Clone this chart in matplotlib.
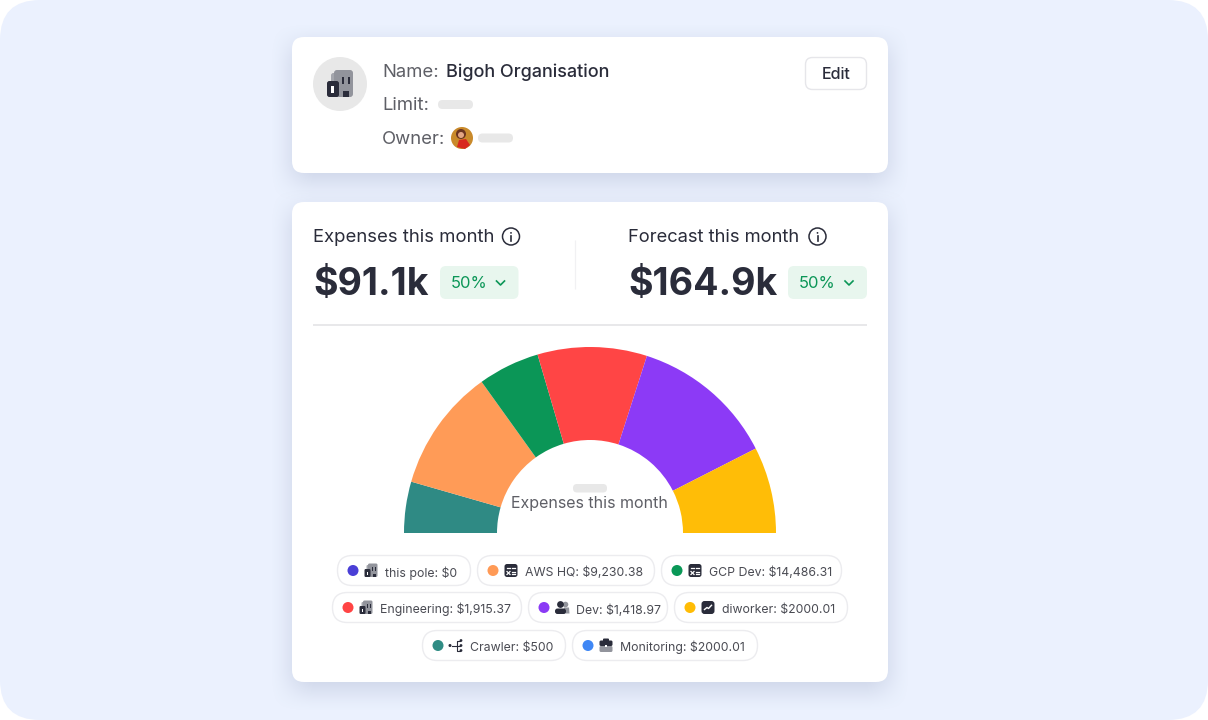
import numpy as np
import matplotlib
matplotlib.use('Agg')
import matplotlib.pyplot as plt
from matplotlib.patches import FancyBboxPatch, Circle, Rectangle, Polygon

plt.rcParams['font.family'] = ['Inter', 'DejaVu Sans']

# slices of the half donut, left to right (share of a full circle)
slice_names = ['Crawler', 'AWS HQ', 'GCP Dev', 'Engineering', 'Dev', 'diworker']
slice_shares = [0.0445, 0.1065, 0.0535, 0.0950, 0.1255, 0.0750]
slice_colors = ['#2F8A84', '#FF9B57', '#0B9657', '#FF4545', '#8C3AF6', '#FFBD07']

legend_labels = ['this pole: $0', 'AWS HQ: $9,230.38', 'GCP Dev: $14,486.31',
                 'Engineering: $1,915.37', 'Dev: $1,418.97', 'diworker: $2000.01',
                 'Crawler: $500', 'Monitoring: $2000.01']
legend_colors = ['#4A3FD6', '#FF9A56', '#0A9857', '#FF4444', '#8B3BF5', '#FFBC05',
                 '#2F8C84', '#3F87F5']
legend_icons = ['org', 'calc', 'calc', 'org', 'people', 'chart', 'tree', 'case']
# pill left, right, top, bottom
legend_boxes = [(337, 471, 555, 586), (477, 655, 555, 586), (661, 842, 555, 586),
                (332, 522, 592, 623), (528, 668, 592, 623), (674, 848, 592, 623),
                (422, 566, 630, 661), (572, 758, 630, 661)]

expenses = '$91.1k'
forecast = '$164.9k'
change = '50%'

DARK = '#2A2C3A'
GREY = '#5E5F66'
PH = '#E8E8E8'
GREEN = '#0B9657'


def rbox(ax, x0, y0, x1, y1, r, fc, ec='none', lw=0, alpha=None, z=2):
    p = FancyBboxPatch((x0, y0), x1 - x0, y1 - y0, boxstyle='round,pad=0,rounding_size=%s' % r,
                       fc=fc, ec=ec, lw=lw, alpha=alpha, zorder=z)
    ax.add_patch(p)


def txt(ax, x, y, s, px, color=DARK, weight='normal', ha='left'):
    # y is the text baseline
    ax.text(x, y, s, fontsize=px * 0.72, color=color, fontweight=weight, ha=ha, va='baseline', zorder=6)


def soft_edge(t, lo, hi, blur):
    a = np.clip((t - lo + blur) / (2 * blur), 0, 1)
    b = np.clip((hi - t + blur) / (2 * blur), 0, 1)
    return (a * a * (3 - 2 * a)) * (b * b * (3 - 2 * b))


def card(ax, x0, y0, x1, y1):
    # soft shadow as a small alpha image under the white box
    blur = 24
    xs = np.arange(1208) + 0.5
    ys = np.arange(720) + 0.5
    alpha = np.outer(soft_edge(ys, y0 + 8, y1 + 8, blur), soft_edge(xs, x0, x1, blur)) * 0.25
    img = np.zeros((720, 1208, 4))
    img[..., 0] = 0.42
    img[..., 1] = 0.47
    img[..., 2] = 0.62
    img[..., 3] = alpha
    ax.imshow(img, extent=(0, 1208, 720, 0), zorder=1, aspect='auto', interpolation='nearest')
    rbox(ax, x0, y0, x1, y1, 12, 'white', z=2)


def building(ax, x, y, s=1.0):
    # x, y is the left bottom corner
    rbox(ax, x + 2 * s, y - 12 * s, x + 9 * s, y, 1.2 * s, '#A4A6AD', z=6)
    rbox(ax, x + 3.5 * s, y - 13.5 * s, x + 13 * s, y, 1.5 * s, '#92949C', z=7)
    rbox(ax, x, y - 8 * s, x + 6 * s, y, 1.2 * s, DARK, z=8)
    ax.add_patch(Rectangle((x + 2 * s, y - 5.5 * s), 1.3 * s, 3.5 * s, fc='white', zorder=9))
    ax.add_patch(Rectangle((x + 7.5 * s, y - 10 * s), 1 * s, 3.5 * s, fc=DARK, zorder=9))
    ax.add_patch(Rectangle((x + 10.7 * s, y - 10 * s), 1 * s, 3.5 * s, fc=DARK, zorder=9))
    ax.add_patch(Rectangle((x + 8 * s, y - 3 * s), 3 * s, 3 * s, fc=DARK, zorder=9))


def draw_icon(ax, kind, cx, cy):
    if kind == 'org':
        building(ax, cx - 6.5, cy + 6.5)
    elif kind == 'calc':
        rbox(ax, cx - 6.5, cy - 6.5, cx + 6.5, cy + 6.5, 2.5, DARK, z=7)
        ax.plot([cx - 4, cx - 1], [cy - 2.5, cy - 2.5], color='white', lw=0.9, zorder=8)
        ax.plot([cx + 1, cx + 4], [cy - 2.5, cy - 2.5], color='white', lw=0.9, zorder=8)
        ax.plot([cx + 1, cx + 4], [cy + 1.5, cy + 1.5], color='white', lw=0.9, zorder=8)
        ax.plot([cx + 1, cx + 4], [cy + 3.5, cy + 3.5], color='white', lw=0.9, zorder=8)
        ax.plot([cx - 4, cx - 1], [cy + 1, cy + 4], color='white', lw=0.9, zorder=8)
        ax.plot([cx - 4, cx - 1], [cy + 4, cy + 1], color='white', lw=0.9, zorder=8)
    elif kind == 'people':
        ax.add_patch(Circle((cx + 3.5, cy - 3), 2.8, fc='#92949C', zorder=7))
        ax.add_patch(Polygon([(cx + 1, cy + 6), (cx + 2, cy), (cx + 7, cy), (cx + 7.5, cy + 6)], fc='#92949C', zorder=7))
        ax.add_patch(Circle((cx - 1.5, cy - 3), 3.4, fc=DARK, zorder=8))
        rbox(ax, cx - 7, cy + 1, cx + 4, cy + 6.5, 2.5, DARK, z=8)
    elif kind == 'chart':
        rbox(ax, cx - 6.5, cy - 6.5, cx + 6.5, cy + 6.5, 3, DARK, z=7)
        ax.plot([cx - 3.5, cx - 1, cx + 0.5, cx + 3.5], [cy + 2, cy, cy + 1, cy - 2.2], color='white', lw=1, zorder=8)
    elif kind == 'tree':
        ax.add_patch(Circle((cx - 6, cy), 1.5, fc=DARK, zorder=8))
        ax.plot([cx - 4, cx + 0.5, cx + 0.5, cx + 4], [cy, cy, cy - 5, cy - 5], color=DARK, lw=0.8, zorder=7)
        ax.plot([cx + 0.5, cx + 0.5, cx + 4], [cy, cy + 5, cy + 5], color=DARK, lw=0.8, zorder=7)
        ax.plot([cx + 0.5, cx + 4], [cy, cy], color=DARK, lw=0.8, zorder=7)
        for yy in (cy - 5, cy, cy + 5):
            ax.add_patch(Circle((cx + 5, yy), 1.4, fc=DARK, zorder=8))
    elif kind == 'case':
        rbox(ax, cx - 3, cy - 7, cx + 3, cy - 3, 1, DARK, z=6)
        rbox(ax, cx - 6.5, cy - 5, cx + 6.5, cy + 0.5, 1.5, DARK, z=7)
        rbox(ax, cx - 6.5, cy + 0.5, cx + 6.5, cy + 6.5, 1.5, '#92949C', z=7)
        ax.add_patch(Rectangle((cx - 1.2, cy - 1), 2.4, 2.4, fc='white', zorder=8))


def info(ax, cx, cy):
    ax.add_patch(Circle((cx, cy), 8.5, fc='white', ec=DARK, lw=1.1, zorder=6))
    ax.plot([cx, cx], [cy - 0.8, cy + 4], color=DARK, lw=1.2, zorder=7)
    ax.add_patch(Circle((cx, cy - 3.6), 0.9, fc=DARK, zorder=7))


def badge(ax, x0, x1, label):
    rbox(ax, x0, 266, x1, 299, 6, '#E8F6EE', z=4)
    txt(ax, x0 + 11, 288.5, label, 16.5, GREEN)
    cx = x1 - 18
    ax.plot([cx - 4, cx, cx + 4], [281, 285, 281], color=GREEN, lw=1.2, zorder=6)


fig = plt.figure(figsize=(12.08, 7.2), dpi=100)
fig.patch.set_facecolor('white')
ax = fig.add_axes([0, 0, 1, 1])

rbox(ax, 0, 0, 1208, 720, 40, '#EBF1FE', z=0)

# top card
card(ax, 292, 37, 888, 173)
ax.add_patch(Circle((340, 84), 27, fc='#E8E8E8', zorder=3))
building(ax, 327, 97, 2.0)
txt(ax, 382, 77, 'Name:', 18.5, GREY)
txt(ax, 446, 77, 'Bigoh Organisation', 18, DARK, 'medium')
txt(ax, 382, 110, 'Limit:', 18.5, GREY)
rbox(ax, 438, 100, 473, 109, 4.5, PH, z=4)
txt(ax, 382, 143.5, 'Owner:', 18.5, GREY)
ax.add_patch(Circle((462, 138), 11, fc='#C98A2B', zorder=4))
ax.add_patch(Circle((461, 134), 5, fc='#6B3420', zorder=5))
ax.add_patch(Circle((461, 135), 3, fc='#E3A583', zorder=6))
ax.add_patch(Polygon([(457, 147), (459, 140), (466, 139), (470, 145), (465, 149)], fc='#D8281E', zorder=6))
rbox(ax, 478, 133.5, 513, 142.5, 4.5, PH, z=4)
rbox(ax, 805.5, 57.5, 866.5, 89.5, 7, 'white', '#E6E6EA', 1, z=4)
txt(ax, 836, 79, 'Edit', 16, DARK, 'medium', ha='center')

# bottom card
card(ax, 292, 202, 888, 682)
txt(ax, 313, 242, 'Expenses this month', 18.5, DARK)
info(ax, 511, 236.5)
txt(ax, 628, 242, 'Forecast this month', 18.4, DARK)
info(ax, 817.5, 236.5)
txt(ax, 313, 295, expenses, 37.5, DARK, 'bold')
txt(ax, 628, 295, forecast, 37.5, DARK, 'bold')
badge(ax, 440, 518.5, change)
badge(ax, 788, 867, change)
ax.plot([574.5, 574.5], [240, 289], color='#F1F1F3', lw=0.9, zorder=3, solid_capstyle='butt')
ax.plot([313, 867], [325, 325], color='#E8E8EA', lw=1.4, zorder=3, solid_capstyle='butt')

ax.set_xlim(0, 1208)
ax.set_ylim(720, 0)
ax.axis('off')

# half donut in its own axes, outer radius 186 px around (590, 533)
dx = fig.add_axes([404 / 1208, (720 - 533) / 720, 372 / 1208, 186 / 720])
dx.pie(slice_shares, colors=slice_colors, normalize=False, startangle=180, counterclock=False,
       radius=1.0, wedgeprops={'width': 0.5, 'linewidth': 0})
dx.set_xlim(-1, 1)
dx.set_ylim(0, 1)
dx.set_aspect('equal')
dx.axis('off')
dx.patch.set_alpha(0)

# upper layer for what sits above the donut
top = fig.add_axes([0, 0, 1, 1])
top.set_xlim(0, 1208)
top.set_ylim(720, 0)
top.axis('off')
top.patch.set_alpha(0)
ax.set_zorder(0)
dx.set_zorder(1)
top.set_zorder(2)
rbox(top, 573, 484, 607, 492.5, 4, PH, z=4)
txt(top, 589.5, 508, 'Expenses this month', 16, GREY, ha='center')

# legend pills
for lab, col, icon, box in zip(legend_labels, legend_colors, legend_icons, legend_boxes):
    x0, x1, y0, y1 = box
    cy = (y0 + y1) / 2
    rbox(top, x0 + 0.5, y0 + 0.5, x1 - 0.5, y1 - 0.5, 15, 'white', '#ECECEF', 1, z=4)
    top.add_patch(Circle((x0 + 16, cy), 5.5, fc=col, zorder=6))
    draw_icon(top, icon, x0 + 34, cy)
    txt(top, x0 + 48, cy + 6, lab, 12.3, '#4A4B53')

fig.savefig('out.png', dpi=100)
